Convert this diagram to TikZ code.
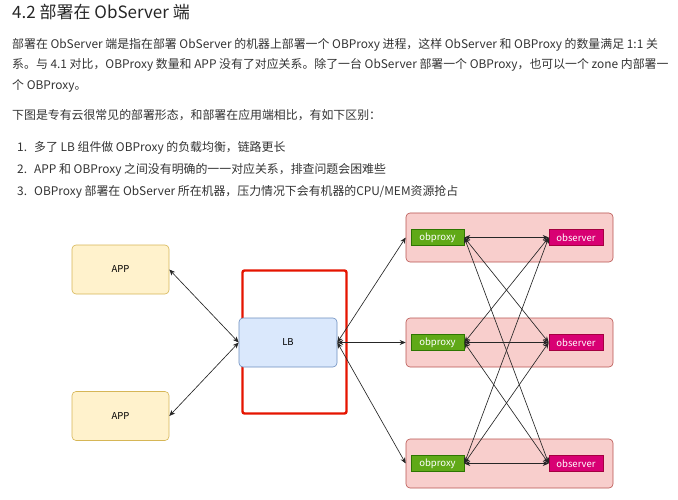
\documentclass[tikz,border=0pt]{standalone}
\usepackage{fontspec}
\setmainfont{Noto Sans CJK SC}
\usetikzlibrary{arrows.meta}

\definecolor{txt}{HTML}{333333}
\definecolor{appfill}{HTML}{FFF2CC}
\definecolor{appdraw}{HTML}{D6B656}
\definecolor{lbfill}{HTML}{DAE8FC}
\definecolor{lbdraw}{HTML}{6C8EBF}
\definecolor{zonefill}{HTML}{F8CECC}
\definecolor{zonedraw}{HTML}{B85450}
\definecolor{proxyfill}{HTML}{60A917}
\definecolor{proxydraw}{HTML}{2D7600}
\definecolor{serverfill}{HTML}{D80073}
\definecolor{serverdraw}{HTML}{A50040}
\definecolor{hlred}{HTML}{E51400}

\begin{document}
\begin{tikzpicture}[x=1pt, y=-1pt, >={Stealth[length=6pt, width=5pt]},
    para/.style={anchor=base west, inner sep=0pt, text=txt, font=\fontsize{11.9}{14}\selectfont},
    box/.style={draw, rounded corners=4pt, line width=0.6pt, inner sep=0pt,
                font=\fontsize{9.5}{11}\selectfont, text=black},
    app/.style={box, fill=appfill, draw=appdraw, minimum width=97pt, minimum height=49pt},
    lb/.style={box, fill=lbfill, draw=lbdraw, minimum width=98pt, minimum height=49pt},
    zone/.style={box, fill=zonefill, draw=zonedraw, minimum width=207pt, minimum height=49pt},
    proc/.style={draw, line width=0.6pt, inner sep=0pt, minimum height=16pt,
                 font=\fontsize{9.5}{11}\selectfont, text=white},
    link/.style={<->, draw=black!85, line width=0.65pt}]

    \useasboundingbox (0,0) rectangle (678,500);

    % ── Heading ──────────────────────────────────────────────────────────────
    \node[para, font=\fontsize{17}{20}\selectfont, text=black!85] (title) at (12,18.5)
        {4.2 部署在 ObServer 端};

    % ── Paragraphs ───────────────────────────────────────────────────────────
    \node[para] (p1) at (12,48.5)
        {部署在 ObServer 端是指在部署 ObServer 的机器上部署一个 OBProxy 进程，这样 ObServer 和 OBProxy 的数量满足 1:1 关};
    \node[para] (p2) at (12,69)
        {系。与 4.1 对比，OBProxy 数量和 APP 没有了对应关系。除了一台 ObServer 部署一个 OBProxy，也可以一个 zone 内部署一};
    \node[para] (p3) at (12,89.5) {个 OBProxy。};
    \node[para] (p4) at (12,119.5) {下图是专有云很常见的部署形态，和部署在应用端相比，有如下区别：};

    % ── List ─────────────────────────────────────────────────────────────────
    \node[para] (n1) at (17,151.5) {1.};
    \node[para] (l1) at (34,151.5) {多了 LB 组件做 OBProxy 的负载均衡，链路更长};
    \node[para] (n2) at (17,174) {2.};
    \node[para] (l2) at (34,174) {APP 和 OBProxy 之间没有明确的一一对应关系，排查问题会困难些};
    \node[para] (n3) at (17,195.5) {3.};
    \node[para] (l3) at (34,195.5) {OBProxy 部署在 ObServer 所在机器，压力情况下会有机器的CPU/MEM资源抢占};

    % ── Red highlight FIRST (behind LB) ──────────────────────────────────────
    \draw[hlred, line width=2.4pt, rounded corners=2pt] (242.5,270.5) rectangle (346.5,413.5);

    % ── APP / LB ─────────────────────────────────────────────────────────────
    \node[app] (app1) at (120.5,269.5) {APP};
    \node[app] (app2) at (120.5,416) {APP};
    \node[lb]  (lb)   at (288,342.5) {LB};

    % ── Zones ────────────────────────────────────────────────────────────────
    \node[zone] (z1) at (509.5,237.5) {};
    \node[zone] (z2) at (509.5,342.5) {};
    \node[zone] (z3) at (509.5,463.5) {};

    % ── obproxy / observer ───────────────────────────────────────────────────
    \node[proc, fill=proxyfill, draw=proxydraw, minimum width=53pt] (px1) at (437.5,237.5) {obproxy};
    \node[proc, fill=proxyfill, draw=proxydraw, minimum width=53pt] (px2) at (437.5,342.5) {obproxy};
    \node[proc, fill=proxyfill, draw=proxydraw, minimum width=53pt] (px3) at (437.5,463.5) {obproxy};
    \node[proc, fill=serverfill, draw=serverdraw, minimum width=54pt] (sv1) at (576,237.5) {observer};
    \node[proc, fill=serverfill, draw=serverdraw, minimum width=54pt] (sv2) at (576,342.5) {observer};
    \node[proc, fill=serverfill, draw=serverdraw, minimum width=54pt] (sv3) at (576,463.5) {observer};

    % ── APP <-> LB <-> zones ──────────────────────────────────────────────────
    \draw[link] (app1.east) -- (lb.west);
    \draw[link] (app2.east) -- (lb.west);
    \draw[link] (lb.east) -- (z1.west);
    \draw[link] (lb.east) -- (z2.west);
    \draw[link] (lb.east) -- (z3.west);

    % ── obproxy <-> observer, every pair ─────────────────────────────────────
    \draw[link] (px1.east) -- (sv1.west);
    \draw[link] (px1.east) -- (sv2.west);
    \draw[link] (px1.east) -- (sv3.west);
    \draw[link] (px2.east) -- (sv1.west);
    \draw[link] (px2.east) -- (sv2.west);
    \draw[link] (px2.east) -- (sv3.west);
    \draw[link] (px3.east) -- (sv1.west);
    \draw[link] (px3.east) -- (sv2.west);
    \draw[link] (px3.east) -- (sv3.west);

\end{tikzpicture}
\end{document}
